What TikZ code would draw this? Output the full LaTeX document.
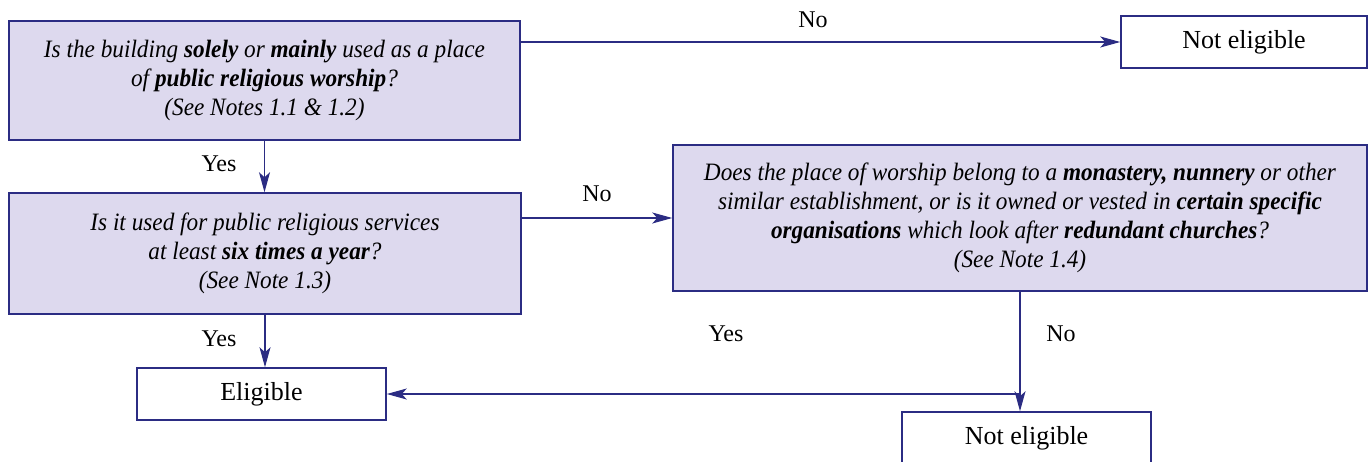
\documentclass[tikz,border=0pt]{standalone}
\usepackage{fontspec}
\setmainfont{Liberation Serif}
\newfontfamily\askfont{Liberation Serif}[FakeStretch=0.93]
\usepackage{tikz}
\usetikzlibrary{arrows.meta}
\usetikzlibrary{positioning}

\definecolor{navyLine}{HTML}{2B2C83}
\definecolor{lilacFill}{HTML}{DDD9EE}

\tikzset{
  qBox/.style={draw=navyLine, line width=0.75pt, fill=lilacFill, align=center,
    inner sep=0pt, font=\askfont\itshape\fontsize{12.5}{14.5}\selectfont},
  endBox/.style={draw=navyLine, line width=0.75pt, fill=white, inner sep=0pt,
    minimum width=123pt, minimum height=26pt, font=\fontsize{13}{15}\selectfont},
  arr/.style={draw=navyLine, line width=0.6pt, -{Stealth[length=10pt,width=5.5pt,inset=2.5pt]}},
  lbl/.style={font=\fontsize{12}{14}\selectfont}
}

\begin{document}
\begin{tikzpicture}[x=0.5pt,y=-0.5pt]

        \useasboundingbox (0,0) rectangle (1370,461);

        % questions
        \node[qBox, minimum width=255.5pt, minimum height=59.5pt] (askOne) at (264.5,80.5)
          {Is the building \textbf{solely} or \textbf{mainly} used as a place\\
           of \textbf{public religious worship}?\\
           (See Notes 1.1 \& 1.2)};
        \node[qBox, minimum width=256pt, minimum height=60.5pt] (askTwo) at (265,253.5)
          {Is it used for public religious services\\
           at least \textbf{six times a year}?\\
           (See Note 1.3)};
        \node[qBox, minimum width=347pt, minimum height=73pt] (askThree) at (1020,218)
          {Does the place of worship belong to a \textbf{monastery, nunnery} or other\\
           similar establishment, or is it owned or vested in \textbf{certain specific}\\
           \textbf{organisations} which look after \textbf{redundant churches}?\\
           (See Note 1.4)};

        % outcomes
        \node[endBox] (notTop) at (1244,42) {Not eligible};
        \node[endBox, minimum width=124.5pt] (elig) at (261.5,394) {Eligible};
        \node[endBox, minimum width=124.5pt] (notLow) at (1026.5,438) {Not eligible};

        % connectors
        \draw[arr] (askOne.east |- notTop.west) -- (notTop.west);
        \draw[arr] (askOne.south) -- (askOne.south |- askTwo.north);
        \draw[arr] (askTwo.east |- askThree.west) -- (askThree.west);
        \draw[arr] (askTwo.south) -- (askTwo.south |- elig.north);
        \draw[arr] (askThree.south) -- (askThree.south |- notLow.north);
        \coordinate (turn) at (askThree.south |- elig.east);
        \draw[arr] (turn) -- (elig.east);

        % labels
        \node[lbl] (noA) at (813,20) {No};
        \node[lbl] (yesA) at (219,164) {Yes};
        \node[lbl] (noB) at (597,194) {No};
        \node[lbl] (yesB) at (219,339) {Yes};
        \node[lbl] (yesC) at (726,334) {Yes};
        \node[lbl] (noC) at (1061,334) {No};

      \end{tikzpicture}
\end{document}
